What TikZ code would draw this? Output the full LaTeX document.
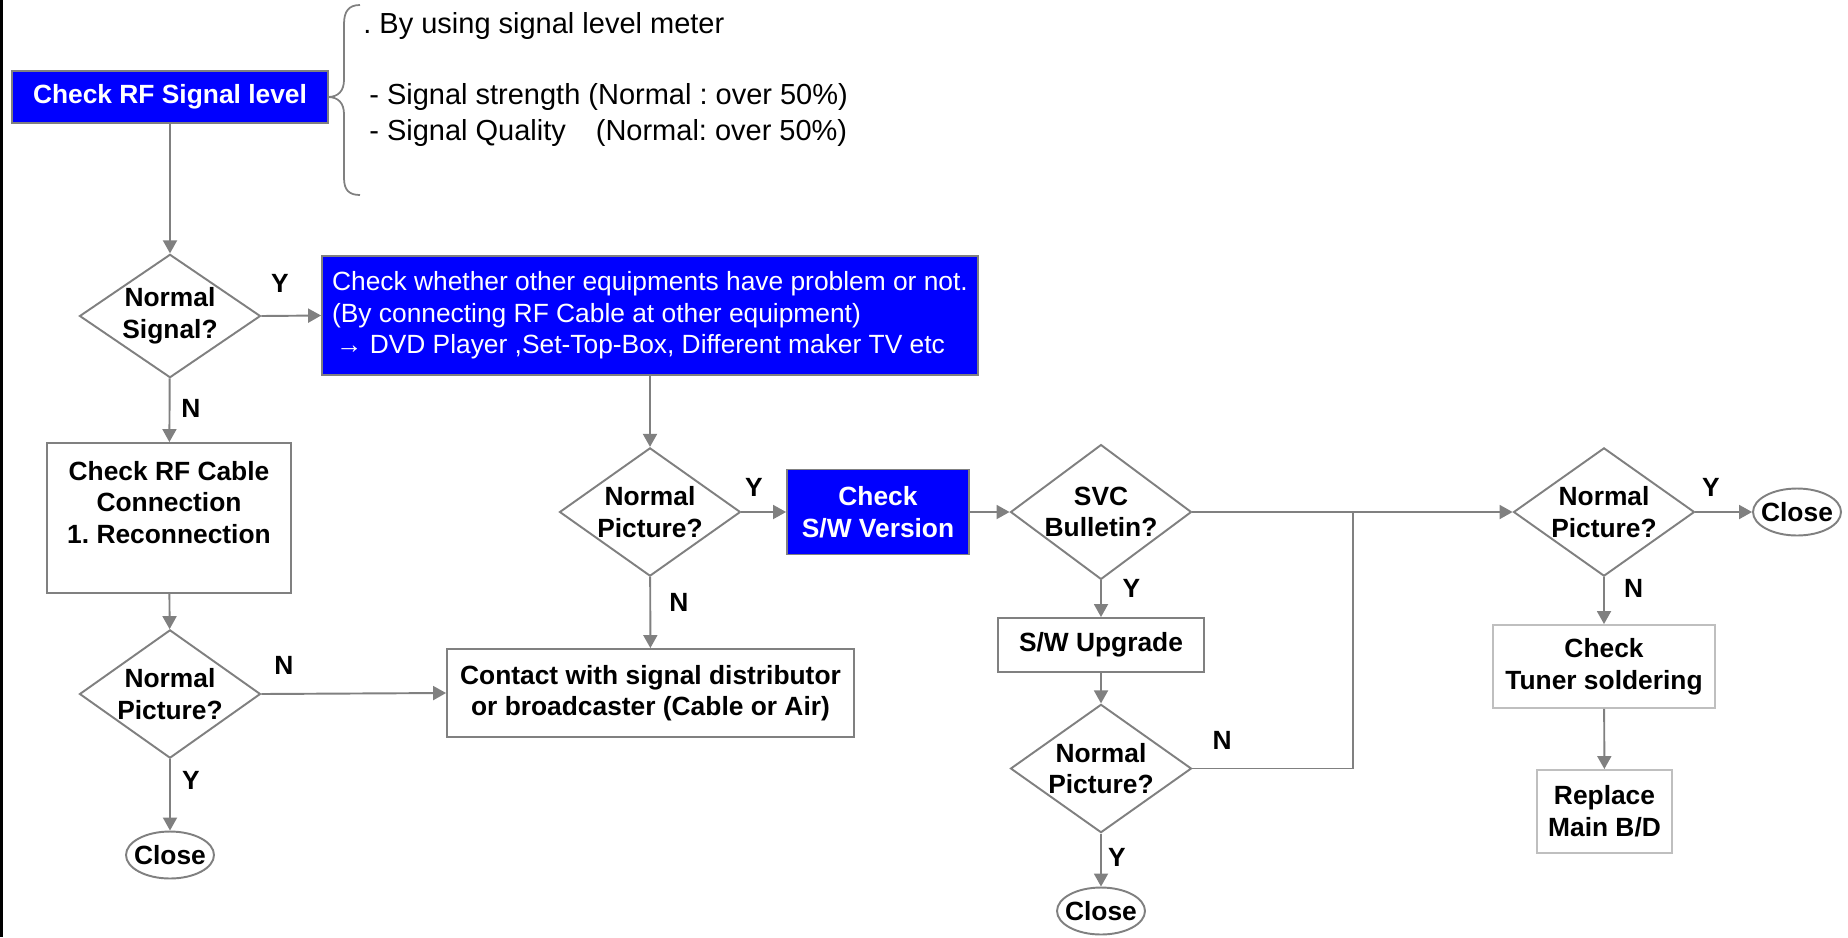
\documentclass[tikz,border=0pt]{standalone}
\usepackage{fontspec}
\setmainfont{Liberation Sans}
\usetikzlibrary{shapes.geometric,arrows.meta}

\newcommand\flowfont{\fontsize{15}{18}\selectfont}
\newcommand\notefont{\fontsize{16.5}{19}\selectfont}

\tikzset{
  link/.style={draw=gray,line width=1.1pt,-{Triangle[length=2.6mm,width=2.8mm]}},
  joint/.style={draw=gray,line width=1.1pt},
  bluebox/.style={draw=gray,line width=1.1pt,fill=blue,text=white,font=\bfseries\flowfont,
    align=center,inner sep=0pt},
  plainbox/.style={draw=gray,line width=1.1pt,fill=white,font=\bfseries\flowfont,
    align=center,inner sep=0pt},
  softbox/.style={plainbox,draw=gray!50},
  decision/.style={diamond,draw=gray,line width=1.1pt,fill=white,inner sep=-4pt,
    minimum width=3.62cm,minimum height=2.4cm,font=\bfseries\flowfont,align=center},
  closer/.style={ellipse,draw=gray,line width=1.1pt,fill=white,inner xsep=-8pt,inner ysep=0pt,
    minimum width=1.76cm,minimum height=0.94cm,font=\bfseries\flowfont},
  yn/.style={font=\bfseries\flowfont,inner sep=0pt},
  note/.style={font=\notefont,anchor=west,inner sep=0pt}
}

\begin{document}
\frenchspacing
\begin{tikzpicture}[x=0.02cm,y=-0.02cm]
    \useasboundingbox (0,0) rectangle (1848,937);
    \fill[black] (0,0) rectangle (3,937);

    % Signal level check and its note
    \node[bluebox,minimum width=6.32cm,minimum height=1.04cm] (rflevel) at (170,97) {Check RF Signal level};
    \draw[gray,line width=1pt] (360,5) .. controls (349,5) and (344,11) .. (344,24) -- (344,80)
        .. controls (344,91) and (338,97) .. (328,97)
        .. controls (338,97) and (344,103) .. (344,114) -- (344,178)
        .. controls (344,190) and (349,195) .. (360,195);
    \node[note] (meter) at (363,26) {. By using signal level meter};
    \node[note] (strength) at (369,97) {- Signal strength (Normal : over 50\%)};
    \node[note] (quality) at (369,133) {- Signal Quality\hspace{0.6cm}(Normal: over 50\%)};

    % Left column
    \node[decision] (sigOK) at (170,316) {Normal\\Signal?};
    \node[plainbox,minimum width=4.88cm,minimum height=3.0cm] (rfcable) at (169,518)
        {Check RF Cable\\Connection\\1. Reconnection\\\mbox{}};
    \node[decision] (picA) at (170,694) {Normal\\Picture?};
    \node[closer] (closeA) at (170,855) {Close};

    % Middle column
    \node[bluebox,font=\flowfont,align=left,inner xsep=0.2cm,minimum width=13.12cm,
        minimum height=2.38cm] (other) at (650,315.5)
        {Check whether other equipments have problem or not.\\
         (By connecting RF Cable at other equipment)\\
         \hspace*{0.08cm}→ DVD Player ,Set-Top-Box, Different maker TV etc};
    \node[decision] (picB) at (650,512) {Normal\\Picture?};
    \node[plainbox,minimum width=8.14cm,minimum height=1.76cm] (contact) at (650.5,693)
        {Contact with signal distributor\\or broadcaster (Cable or Air)};
    \node[bluebox,minimum width=3.64cm,minimum height=1.7cm] (swver) at (878,512) {Check\\S/W Version};

    % SVC column
    \node[decision] (svc) at (1101,512) {SVC\\Bulletin?};
    \node[plainbox,minimum width=4.12cm,minimum height=1.08cm] (upgrade) at (1101,645) {S/W Upgrade};
    \node[decision] (picC) at (1101,768.5) {Normal\\Picture?};
    \node[closer] (closeC) at (1101,911) {Close};
    \coordinate (join) at (1353,512);

    % Right column
    \node[decision] (picD) at (1604,512) {Normal\\Picture?};
    \node[closer] (closeD) at (1797,512) {Close};
    \node[softbox,minimum width=4.44cm,minimum height=1.66cm] (tuner) at (1604,666.5) {Check\\Tuner soldering};
    \node[softbox,minimum width=2.7cm,minimum height=1.66cm] (replace) at (1604.5,811.5) {Replace\\Main B/D};

    % Connectors
    \draw[link] (rflevel) -- (sigOK);
    \draw[link] (sigOK.east) -- (other.west);
    \draw[link] (sigOK) -- (rfcable);
    \draw[link] (rfcable) -- (picA);
    \draw[link] (picA.east) -- (contact.west);
    \draw[link] (picA) -- (closeA);
    \draw[link] (other) -- (picB);
    \draw[link] (picB.east) -- (swver.west);
    \draw[link] (picB) -- (contact);
    \draw[link] (swver.east) -- (svc.west);
    \draw[link] (svc.east) -- (picD.west);
    \draw[link] (svc) -- (upgrade);
    \draw[link] (upgrade) -- (picC);
    \draw[joint] (picC.east) -| (join);
    \draw[link] (picC) -- (closeC);
    \draw[link] (picD.east) -- (closeD.west);
    \draw[link] (picD) -- (tuner);
    \draw[link] (tuner) -- (replace);

    % Y / N marks
    \node[yn] (ySig) at (280,283) {Y};
    \node[yn] (nSig) at (191,408) {N};
    \node[yn] (nPicA) at (284,665) {N};
    \node[yn] (yPicA) at (191,780) {Y};
    \node[yn] (yPicB) at (754,487) {Y};
    \node[yn] (nPicB) at (679,602) {N};
    \node[yn] (ySvc) at (1131.5,588) {Y};
    \node[yn] (nPicC) at (1222,740) {N};
    \node[yn] (yPicC) at (1117,857) {Y};
    \node[yn] (yPicD) at (1711,487) {Y};
    \node[yn] (nPicD) at (1633.5,588) {N};
\end{tikzpicture}
\end{document}
